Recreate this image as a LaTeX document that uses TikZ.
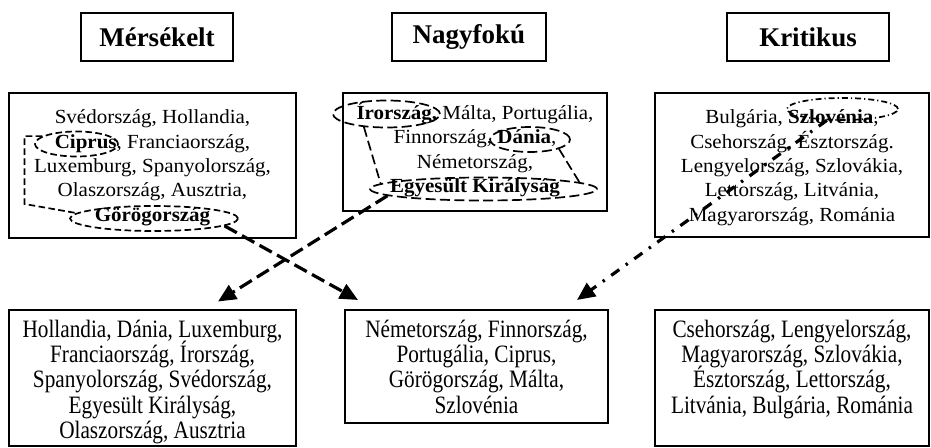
\documentclass[tikz,border=0pt]{standalone}
\usepackage{fontspec}
\setmainfont{Liberation Serif}
\newfontfamily\listfont[FakeStretch=1.05]{Liberation Serif}
\newfontfamily\resultfont[FakeStretch=0.85]{Liberation Serif}
\usetikzlibrary{arrows.meta,shapes.geometric}

\newlength{\du}
\setlength{\du}{0.5pt}
% keep every line on its own baseline, accented capitals or not
\setlength{\lineskiplimit}{-20pt}

\tikzset{
  headbox/.style={draw, line width=0.65pt, inner sep=0pt,
    font=\bfseries\fontsize{13.5pt}{15pt}\selectfont},
  groupbox/.style={draw, line width=0.65pt, inner sep=0pt},
  listtext/.style={inner sep=0pt, align=center, anchor=north,
    font=\listfont\fontsize{10pt}{12.2pt}\selectfont},
  resulttext/.style={inner sep=0pt, align=center, anchor=north,
    font=\resultfont\fontsize{12.5pt}{12.55pt}\selectfont},
  ring/.style={ellipse, draw, inner sep=0pt, line width=0.85pt},
  thinline/.style={line width=0.85pt},
  mersdash/.style={dash pattern=on 3.3pt off 1.7pt},
  nagydash/.style={dash pattern=on 5pt off 2.2pt},
  kritdash/.style={dash pattern=on 3pt off 1.5pt on 0.6pt off 1.5pt},
  bigarrow/.style={line width=1.6pt, -{Triangle[length=9pt,width=8pt]}},
  bigdash/.style={bigarrow, dash pattern=on 7pt off 3pt},
  bigdashdot/.style={bigarrow, dash pattern=on 5pt off 4pt on 1.2pt off 4pt},
}

\begin{document}
\begin{tikzpicture}
\pgftransformyscale{-1.000000}
\path[fill=white] (0\du,0\du) rectangle (931\du,448\du);

% headers
\node[headbox, minimum width=152\du, minimum height=48\du] (mershead) at (157\du,37\du) {Mérsékelt};
\node[headbox, minimum width=154\du, minimum height=48\du] (nagyhead) at (469\du,37\du) {Nagyfokú};
\node[headbox, minimum width=162\du, minimum height=48\du] (krithead) at (808\du,37\du) {Kritikus};

% present lists
\node[groupbox, minimum width=287\du, minimum height=145\du] (merslist) at (152.5\du,165.5\du) {};
\node[groupbox, minimum width=264\du, minimum height=118\du] (nagylist) at (475\du,152\du) {};
\node[groupbox, minimum width=274\du, minimum height=144\du] (kritlist) at (792\du,165\du) {};
\node[listtext] (merslisttext) at (152.5\du,109.3\du)
  {Svédország, Hollandia,\\ \textbf{Ciprus}, Franciaország,\\ Luxemburg, Spanyolország,\\
   Olaszország, Ausztria,\\ \textbf{Görögország}};
\node[listtext] (nagylisttext) at (475\du,102\du)
  {\textbf{Írország,} Málta, Portugália,\\ Finnország, \textbf{Dánia},\\ Németország,\\
   \textbf{Egyesült Királyság}};
\node[listtext] (kritlisttext) at (792\du,109.3\du)
  {Bulgária, \textbf{Szlovénia},\\ Csehország, Észtország.\\ Lengyelország, Szlovákia,\\
   Lettország, Litvánia,\\ Magyarország, Románia};

% new lists
\node[groupbox, minimum width=287\du, minimum height=136\du] (mersnew) at (152.5\du,378\du) {};
\node[groupbox, minimum width=263\du, minimum height=113\du] (nagynew) at (476.5\du,366.5\du) {};
\node[groupbox, minimum width=274\du, minimum height=136\du] (kritnew) at (792\du,378\du) {};
\node[resulttext] (mersnewtext) at (152.5\du,320\du)
  {Hollandia, Dánia, Luxemburg,\\ Franciaország, Írország,\\ Spanyolország, Svédország,\\
   Egyesült Királyság,\\ Olaszország, Ausztria};
\node[resulttext] (nagynewtext) at (476.5\du,320\du)
  {Németország, Finnország,\\ Portugália, Ciprus,\\ Görögország, Málta,\\ Szlovénia};
\node[resulttext] (kritnewtext) at (792\du,320\du)
  {Csehország, Lengyelország,\\ Magyarország, Szlovákia,\\ Észtország, Lettország,\\
   Litvánia, Bulgária, Románia};

% marked countries
\node[ring, mersdash, minimum width=83\du, minimum height=25\du] (cipr) at (76.5\du,144\du) {};
\node[ring, mersdash, minimum width=168\du, minimum height=25\du] (gor) at (154\du,218.5\du) {};
\node[ring, nagydash, minimum width=107\du, minimum height=27\du] (iror) at (386.5\du,114\du) {};
\node[ring, nagydash, minimum width=80\du, minimum height=25\du] (dania) at (530\du,139.5\du) {};
\node[ring, nagydash, minimum width=227\du, minimum height=23\du] (egy) at (483.5\du,189\du) {};
\node[ring, kritdash, minimum width=111\du, minimum height=22\du] (szlo) at (842.5\du,109\du) {};

\coordinate (bend) at (24.5\du,204\du);
\draw[thinline, mersdash] (cipr.167) -| (bend) -- (gor.176);
\draw[thinline, nagydash] (iror.-150) -- (egy.177);
\draw[thinline, nagydash] (dania.-18) -- (egy.4);

% moves
\coordinate (gortip) at (358\du,300\du);
\coordinate (egytip) at (218\du,301.5\du);
\coordinate (szlotip) at (577\du,300\du);
\draw[bigdash] (gor.-6) -- (gortip);
\draw[bigdash] (egy.184) -- (egytip);
\draw[bigdashdot] (szlo.216) -- (szlotip);
\end{tikzpicture}
\end{document}
